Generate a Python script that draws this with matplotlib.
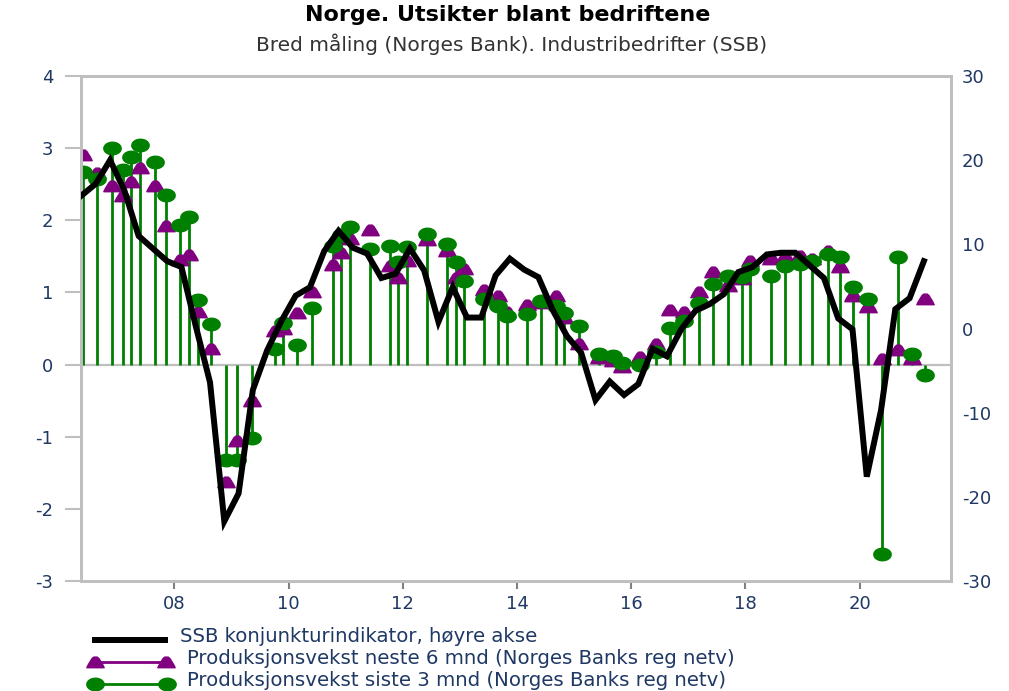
import matplotlib
matplotlib.use("Agg")
import matplotlib.pyplot as plt
from matplotlib.path import Path
from matplotlib.lines import Line2D
import numpy as np

# ---------------- data ----------------
# Norges Bank regional network (left axis), survey dates as decimal years
nb_dates = [2006.40, 2006.64, 2006.90, 2007.10, 2007.25, 2007.40, 2007.66, 2007.85,
            2008.10, 2008.25, 2008.41, 2008.64, 2008.905, 2009.10, 2009.36, 2009.76,
            2009.91, 2010.15, 2010.41, 2010.77, 2010.92, 2011.07, 2011.42, 2011.77,
            2011.91, 2012.07, 2012.42, 2012.77, 2012.93, 2013.07, 2013.42, 2013.67,
            2013.82, 2014.17, 2014.42, 2014.68, 2014.83, 2015.08, 2015.43, 2015.69,
            2015.84, 2016.16, 2016.44, 2016.68, 2016.93, 2017.19, 2017.44, 2017.69,
            2017.94, 2018.08, 2018.45, 2018.70, 2018.95, 2019.16, 2019.45, 2019.65,
            2019.88, 2020.15, 2020.40, 2020.67, 2020.92, 2021.15]
prod_last3 = [2.67, 2.57, 3.00, 2.70, 2.88, 3.05, 2.81, 2.35,
              1.93, 2.05, 0.90, 0.56, -1.325, -1.325, -1.02, 0.22,
              0.58, 0.27, 0.79, 1.65, 1.80, 1.91, 1.60, 1.65,
              1.42, 1.63, 1.81, 1.67, 1.42, 1.16, 0.91, 0.81,
              0.67, 0.70, 0.88, 0.81, 0.72, 0.53, 0.15, 0.12,
              0.02, 0.00, 0.18, 0.51, 0.60, 0.85, 1.12, 1.23,
              1.22, 1.33, 1.23, 1.37, 1.40, 1.44, 1.53, 1.49,
              1.07, 0.91, -2.63, 1.49, 0.14, -0.14]
prod_next6 = [2.90, 2.65, 2.47, 2.33, 2.53, 2.73, 2.47, 1.92,
              1.45, 1.52, 0.73, 0.22, -1.63, -1.06, -0.51, 0.47,
              0.50, 0.71, 1.01, 1.38, 1.54, 1.74, 1.87, 1.36,
              1.20, 1.44, 1.72, 1.57, 1.20, 1.33, 1.03, 0.95,
              0.73, 0.82, 0.86, 0.95, 0.64, 0.29, 0.09, 0.05,
              -0.03, 0.11, 0.29, 0.75, 0.73, 1.01, 1.29, 1.09,
              1.19, 1.43, 1.46, 1.49, 1.51, 1.47, 1.58, 1.35,
              0.95, 0.80, 0.08, 0.20, 0.08, 0.91]

# SSB business tendency indicator (right axis), quarterly 2006Q2-2021Q1 (mid-quarter)
ssb_start = 2006.375
ssb_values = [15.8, 17.2, 20.0,
              16.4, 11.0, 9.5, 8.0,
              7.3, 0.3, -6.4, -22.9,
              -19.6, -7.3, -2.6, 0.9,
              3.9, 4.9, 9.2, 11.6,
              9.6, 8.9, 6.0, 6.5,
              9.5, 6.9, 0.8, 4.9,
              1.3, 1.3, 6.3, 8.3,
              7.0, 6.1, 2.2, -0.9,
              -2.9, -8.5, -6.3, -7.9,
              -6.6, -2.4, -3.3, -0.1,
              2.1, 2.9, 4.1, 6.7,
              7.3, 8.8, 9.0, 9.0,
              7.5, 6.0, 1.2, -0.1,
              -17.6, -9.7, 2.3, 3.6,
              8.0]
ssb_dates = [ssb_start + 0.25 * i for i in range(len(ssb_values))]

x_ticks = [2008, 2010, 2012, 2014, 2016, 2018, 2020]
x_labels = ["08", "10", "12", "14", "16", "18", "20"]
left_ticks = [-3, -2, -1, 0, 1, 2, 3, 4]
right_ticks = [-30, -20, -10, 0, 10, 20, 30]

title = "Norge. Utsikter blant bedriftene"
subtitle = "Bred måling (Norges Bank). Industribedrifter (SSB)"
leg_labels = ["SSB konjunkturindikator, høyre akse",
              "Produksjonsvekst neste 6 mnd (Norges Banks reg netv)",
              "Produksjonsvekst siste 3 mnd (Norges Banks reg netv)"]

# ---------------- style ----------------
W, H = 1009, 691
DPI = 100
GREEN = "#008000"
PURPLE = "#800080"
NAVY = "#1F3864"
GREY = "#BFBFBF"

t = np.linspace(0, 2 * np.pi, 40)
ellipse = Path(np.column_stack([np.cos(t), 0.72 * np.sin(t)]))
tri = Path([(-1, -0.6), (1, -0.6), (0.8, -0.2), (0.4, 0.45), (0.2, 0.62),
            (-0.2, 0.62), (-0.4, 0.45), (-0.8, -0.2), (-1, -0.6)], closed=True)

fig = plt.figure(figsize=(W / DPI, H / DPI), dpi=DPI)
L, R, T, B = 80.5, 951, 76, 581
ax = fig.add_axes([L / W, 1 - B / H, (R - L) / W, (B - T) / H])
ax2 = ax.twinx()

ax.set_xlim(2006.357, 2021.60)
ax.set_ylim(-3, 4)
ax2.set_ylim(-30, 30)

ax.axhline(0, color=GREY, lw=1.6, zorder=0.5)
ax.vlines(nb_dates, 0, prod_last3, color=GREEN, lw=2.0, zorder=1)
ax.plot(nb_dates, prod_next6, ls="none", marker=tri, ms=12.5, color=PURPLE,
        mec=PURPLE, zorder=2)
ax.plot(nb_dates, prod_last3, ls="none", marker=ellipse, ms=12.5, color=GREEN,
        mec=GREEN, zorder=3)
ax2.plot(ssb_dates, ssb_values, color="black", lw=4.3, solid_joinstyle="miter",
         zorder=4)

for a in (ax, ax2):
    for s in a.spines.values():
        s.set_color(GREY)
        s.set_linewidth(2.0)

ax.set_yticks(left_ticks)
ax.set_yticklabels([str(v) for v in left_ticks])
ax.set_xticks(x_ticks)
ax.set_xticklabels(x_labels)
ax2.set_yticks(right_ticks)
ax2.set_yticklabels([str(v) for v in right_ticks])

ax.tick_params(axis="y", length=11.5, width=1.5, color=GREY, pad=8,
               labelsize=13, labelcolor=NAVY)
ax.tick_params(axis="x", length=6, width=1.5, color="#808080", pad=4,
               labelsize=13, labelcolor=NAVY)
ax2.tick_params(axis="y", length=0, pad=8, labelsize=13, labelcolor=NAVY)

# ---------------- titles ----------------
def fig_xy(px, py):
    return px / W, 1 - py / H

fig.text(*fig_xy(508, 15), title, ha="center", va="center", fontsize=16,
         color="black", family="DejaVu Sans", fontweight="bold")
fig.text(*fig_xy(512, 44), subtitle, ha="center", va="center", fontsize=14.5,
         color="#333333", family="DejaVu Sans")

# ---------------- legend ----------------
leg_y = [640, 662, 684]
fig.add_artist(Line2D([95 / W, 165 / W], [1 - leg_y[0] / H] * 2, color="black",
                      lw=4.3, transform=fig.transFigure))
fig.add_artist(Line2D([95 / W, 166 / W], [1 - leg_y[1] / H] * 2, color=PURPLE,
                      lw=2.0, marker=tri, ms=12.5, transform=fig.transFigure))
fig.add_artist(Line2D([95 / W, 167 / W], [1 - leg_y[2] / H] * 2, color=GREEN,
                      lw=2.0, marker=ellipse, ms=12.5, transform=fig.transFigure))
leg_x = [180, 187, 187]
leg_cy = [637, 659, 681]
for lbl, lx, cy in zip(leg_labels, leg_x, leg_cy):
    fig.text(*fig_xy(lx, cy), lbl, ha="left", va="center", fontsize=14.2,
             color=NAVY, family="DejaVu Sans")

fig.savefig("out.png", dpi=DPI)
